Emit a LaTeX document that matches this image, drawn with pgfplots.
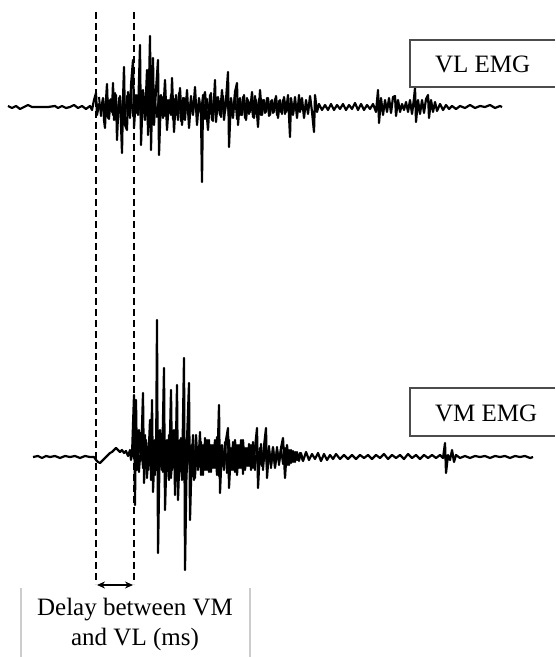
\documentclass[border=0pt]{standalone}
\usepackage{pgfplots}
\pgfplotsset{compat=1.18}
\usepackage{fontspec}
\setmainfont{Liberation Serif}
\usetikzlibrary{arrows.meta}
\begin{document}
\begin{tikzpicture}
\begin{axis}[
  scale only axis, width=277.5pt, height=328.5pt,
  xmin=0, xmax=555, ymin=0, ymax=657, y dir=reverse,
  hide axis, clip=true,
]
\path (axis cs:0,0) rectangle (axis cs:555,657);
% VL EMG trace
\addplot[black, line width=1.1pt, line join=round] coordinates {
(8,106)(12,108)(16,106)(20,109)(24,107)(28,105)(32,107)(40,107)(48,107)(55,106)(58,108)(62,106)(66,108)(70,107)(74,105)(78,108)(82,106)(86,109)(90,106)(92,110)(94,100)
(96,93)(97,115)(99,104)(101,110)(103,98)(104,120)(105,128)(106,100)(107,84)(108,118)(110,100)(112,112)(113,83)(114,120)(116,95)(117,140)(118,115)(120,96)(122,153)(123,100)(124,67)(125,125)(127,130)(128,92)(130,118)(131,85)(133,60)(134,128)(136,95)(138,115)(140,45)(141,145)(143,90)(145,120)(147,70)(148,135)(150,36)(151,150)(153,58)(154,125)(156,90)(158,60)(159,155)(161,95)(163,118)(165,80)(167,130)(169,100)(171,115)(172,78)(174,132)(176,95)(178,120)(180,88)(182,125)(184,98)(185,120)(187,90)(189,128)(191,100)(193,115)(195,87)(197,125)(199,98)(201,115)(202,182)(203,100)(205,92)(207,118)(208,130)(210,95)(212,120)(214,100)(215,80)(216,122)(218,97)(220,115)(222,90)(224,120)(226,100)(228,72)(229,147)(231,98)(233,118)(235,92)(237,83)(238,125)(240,98)(242,115)(244,95)(246,120)(248,100)(250,112)(252,92)(254,118)(256,100)(258,127)(260,90)(262,115)(264,100)(266,112)(268,98)(270,115)(272,100)(274,112)(276,96)(278,118)(280,100)(282,114)(284,97)(286,112)(288,95)(290,137)(291,98)(293,115)(295,97)(297,118)(299,95)(300,112)(302,98)(304,118)(306,100)(308,114)(310,96)(312,112)(314,132)(315,95)(317,112)(319,104)(322,110)(325,105)(328,110)(331,104)(334,110)(337,105)(340,109)(343,104)(346,110)(349,105)(352,109)(355,103)(358,110)(361,104)(364,110)(367,105)(370,109)(373,104)(376,112)(378,90)(379,123)(381,98)(383,115)(385,100)(387,112)(389,98)(391,113)(393,97)(395,96)(396,116)(398,100)(400,112)(402,104)(404,110)(406,102)(408,112)(410,100)(412,114)(414,98)(415,88)(416,122)(418,100)(420,114)(422,100)(424,113)(426,99)(428,95)(429,118)(431,100)(433,112)(435,102)(437,111)(440,104)(443,110)(446,105)(449,109)(452,106)(456,109)(460,106)(465,108)(470,105)(475,108)(480,106)(485,107)(490,105)(495,108)(500,106)(502,107)
};
% VL dense core
\addplot[black, line width=1.0pt, line join=round] coordinates {
(99,97)(101,116)(103,100)(105,113)(107,95)(109,119)(111,99)(113,115)(115,93)(117,121)(119,98)(121,114)(123,101)(125,117)(127,96)(129,112)(131,97)(133,116)(135,100)(137,113)(139,95)(141,119)(143,99)(145,115)(147,93)(149,121)(151,98)(153,114)(155,101)(157,117)(159,96)(161,112)(163,97)(165,116)(167,100)(169,113)(171,95)(173,119)(175,99)(177,115)(179,93)(181,121)(183,98)(185,114)(187,101)(189,117)(191,96)(193,112)(195,97)(197,116)(199,100)(201,113)(203,95)(205,119)(207,99)(209,115)(211,93)(213,121)(215,98)(217,114)(219,101)(221,117)(223,96)(225,112)(227,97)(229,116)(231,100)(233,113)(235,95)(237,119)(239,99)(241,115)(243,97)(245,118)(247,98)(249,114)(251,101)(253,117)(255,96)(257,112)(259,99)(261,115)(263,100)(265,113)(267,98)(269,116)(271,101)(273,113)(275,99)(277,115)(279,101)(281,112)(283,100)(285,114)(287,102)(289,112)(291,101)(293,113)(295,102)(297,111)(299,103)(301,110)
};
% VM EMG trace
\addplot[black, line width=1.1pt, line join=round] coordinates {
(33,457)(38,456)(42,458)(46,456)(50,457)(55,456)(60,458)(65,456)(70,457)(75,456)(80,458)(85,456)(90,457)(94,457)(96,460)(98,462)(100,463)(102,461)(104,459)(106,457)(108,455)(110,453)(112,452)(114,450)(116,448)(118,450)(120,452)(122,450)(124,453)(126,451)(128,456)(130,450)(131,460)(132,455)(134,395)(135,505)(136,400)(137,470)(139,430)(141,460)(143,393)(144,483)(146,440)(148,470)(150,420)(151,480)(152,400)(153,492)(155,440)(156,470)(157,320)(158,553)(160,430)(162,470)(164,368)(165,510)(167,440)(169,480)(171,390)(172,470)(174,430)(175,495)(177,385)(178,500)(180,440)(182,480)(184,358)(185,570)(187,440)(189,383)(190,520)(192,445)(194,480)(196,435)(198,470)(200,432)(201,475)(203,445)(205,470)(207,440)(209,472)(211,445)(213,468)(215,440)(217,475)(219,405)(220,493)(222,445)(224,470)(226,440)(228,428)(229,488)(231,448)(233,470)(235,440)(237,475)(239,445)(241,468)(243,440)(245,470)(247,448)(249,466)(251,445)(253,468)(255,448)(257,428)(258,488)(260,448)(262,466)(264,446)(266,428)(267,478)(269,450)(271,465)(273,447)(275,468)(277,450)(279,462)(281,448)(283,438)(285,478)(287,445)(289,465)(291,450)(293,462)(295,452)(297,460)(300,453)(303,461)(306,452)(309,460)(312,454)(315,459)(318,453)(321,461)(324,454)(327,460)(330,455)(333,459)(336,454)(340,459)(344,455)(348,459)(352,455)(356,459)(360,455)(364,458)(368,455)(372,459)(376,455)(380,458)(384,454)(388,459)(392,455)(396,458)(400,455)(404,459)(408,454)(412,458)(416,455)(420,459)(424,455)(428,458)(432,455)(436,458)(440,455)(443,458)(445,443)(446,473)(448,455)(450,460)(452,450)(454,462)(456,455)(460,458)(465,456)(470,458)(475,456)(480,457)(485,456)(490,458)(495,456)(500,457)(505,456)(510,458)(515,456)(520,457)(525,456)(530,458)(533,457)
};
% VM dense core
\addplot[black, line width=1.0pt, line join=round] coordinates {
(137,440)(139,472)(141,445)(143,468)(145,435)(147,478)(149,448)(151,466)(153,442)(155,475)(157,438)(159,470)(161,440)(163,472)(165,445)(167,468)(169,435)(171,478)(173,448)(175,466)(177,442)(179,475)(181,438)(183,470)(185,440)(187,472)(189,445)(191,468)(193,435)(195,478)(197,448)(199,466)(201,442)(203,475)(205,438)(207,470)(209,440)(211,472)(213,445)(215,468)(217,437)(219,476)(221,448)(223,466)(225,442)(227,473)(229,440)(231,470)(233,442)(235,472)(237,445)(239,468)(241,440)(243,474)(245,448)(247,466)(249,444)(251,470)(253,442)(255,470)(257,446)(259,468)(261,444)(263,470)(265,447)(267,467)(269,446)(271,468)(273,448)(275,466)(277,447)(279,465)(281,449)(283,464)(285,448)(287,465)(289,450)(291,463)(293,451)(295,462)(297,452)(299,461)(301,453)(303,460)
};
% dashed onset lines
\addplot[black, line width=0.8pt, dash pattern=on 3.5pt off 2pt] coordinates {(96,12)(96,584)};
\addplot[black, line width=0.8pt, dash pattern=on 3.5pt off 2pt] coordinates {(134,12)(134,584)};
% delay arrow
\addplot[black, line width=0.9pt, {Stealth[length=4pt,width=3.5pt]}-{Stealth[length=4pt,width=3.5pt]}] coordinates {(97,585)(133,585)};
% caption frame lines
\addplot[gray!40, line width=0.6pt] coordinates {(21,588)(21,657)};
\addplot[gray!40, line width=0.6pt] coordinates {(250,588)(250,657)};
% label boxes
\addplot[black!70, line width=0.8pt] coordinates {(555,40)(410,40)(410,87)(555,87)};
\addplot[black!70, line width=0.8pt] coordinates {(555,388)(410,388)(410,436)(555,436)};
\node[font=\fontsize{12.5}{15}\selectfont, anchor=west] at (axis cs:428,64) {VL EMG};
\node[font=\fontsize{12.5}{15}\selectfont, anchor=west] at (axis cs:428,413) {VM EMG};
\node[font=\fontsize{12.5}{15}\selectfont, align=center] at (axis cs:135,624) {Delay between VM\\and VL (ms)};
\end{axis}
\end{tikzpicture}
\end{document}
